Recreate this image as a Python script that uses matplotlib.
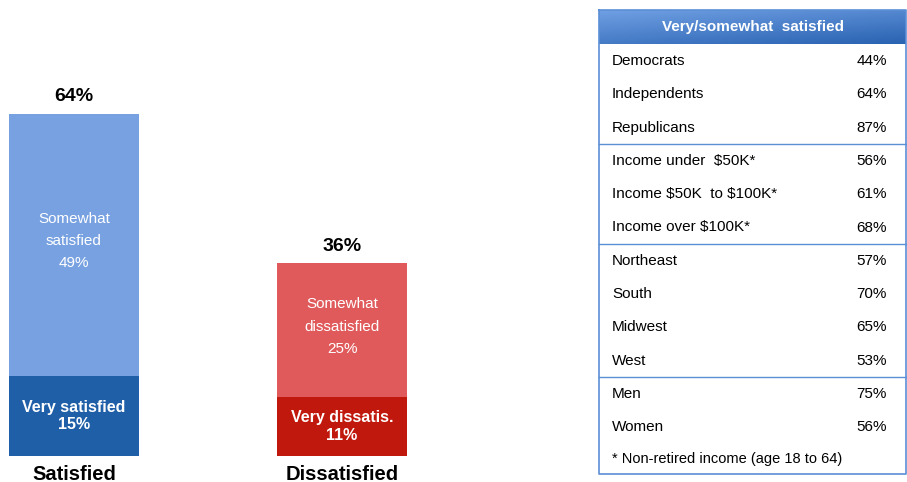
import numpy as np
import matplotlib
matplotlib.use("Agg")
import matplotlib.pyplot as plt
from matplotlib.colors import LinearSegmentedColormap

plt.rcParams['font.family'] = ['Liberation Sans', 'DejaVu Sans']
plt.rcParams['text.parse_math'] = False

# bar data
groups = ['Satisfied', 'Dissatisfied']
very = [15, 11]
somewhat = [49, 25]
very_labels = ['Very satisfied', 'Very dissatis.']
some_labels = ['Somewhat\nsatisfied', 'Somewhat\ndissatisfied']
very_colors = ['#1f5fa8', '#c0180c']
some_colors = ['#77a1e0', '#e05a5c']

# table data
tbl_title = 'Very/somewhat  satisfied'
tbl_rows = ['Democrats', 'Independents', 'Republicans',
            'Income under  $50K*', 'Income $50K  to $100K*', 'Income over $100K*',
            'Northeast', 'South', 'Midwest', 'West',
            'Men', 'Women']
tbl_vals = ['44%', '64%', '87%', '56%', '61%', '68%',
            '57%', '70%', '65%', '53%', '75%', '56%']
tbl_breaks = [2, 5, 9]
footnote = '* Non-retired income (age 18 to 64)'

W, H = 907, 482
fig = plt.figure(figsize=(W / 100, H / 100), dpi=100)

# --- stacked bars ---
bar_w = 0.485
ax = fig.add_axes([9 / W, (H - 456) / H, 398 / W, 374.5 / H])
x = np.arange(len(groups))
ax.bar(x, very, width=bar_w, color=very_colors)
ax.bar(x, somewhat, bottom=very, width=bar_w, color=some_colors)
ax.set_xlim(-bar_w / 2, 1 + bar_w / 2)
ax.set_ylim(0, 70)
ax.axis('off')

for i in range(len(groups)):
    total = very[i] + somewhat[i]
    ax.text(x[i], very[i] / 2, f'{very_labels[i]}\n{very[i]}%', ha='center', va='center',
            color='white', fontsize=11.5, fontweight='bold', linespacing=1.2)
    ax.text(x[i], very[i] + somewhat[i] / 2 + 0.7, f'{some_labels[i]}\n{somewhat[i]}%', ha='center',
            va='center', color='white', fontsize=11, linespacing=1.75)
    ax.text(x[i], total + 1.6, f'{total}%', ha='center', va='bottom',
            fontsize=14, fontweight='bold')
    ax.text(x[i], -1.6, groups[i], ha='center', va='top', fontsize=14.5, fontweight='bold')

# --- table ---
tx = fig.add_axes([0, 0, 1, 1])
tx.set_xlim(0, W)
tx.set_ylim(H, 0)
tx.axis('off')

left, right, top, head_bot, bottom = 599, 906, 10, 44, 474
g = np.add.outer(np.linspace(0, 0.6, 20), np.linspace(0, 0.4, 100))
cmap = LinearSegmentedColormap.from_list('hdr', ['#6f9fe3', '#2a63b2'])
tx.imshow(g, cmap=cmap, extent=[left, right, head_bot, top], aspect='auto', zorder=1)
tx.text((left + right) / 2, (top + head_bot) / 2, tbl_title, ha='center', va='center',
        color='white', fontsize=11, fontweight='bold', zorder=3)
tx.plot([left, left, right, right, left], [top, bottom, bottom, top, top],
        color='#5b8fd6', lw=1.2, zorder=2)

row_y0, row_h = 61, 33.3
for i, (name, val) in enumerate(zip(tbl_rows, tbl_vals)):
    y = row_y0 + i * row_h
    tx.text(612, y, name, ha='left', va='center', fontsize=11)
    tx.text(887, y, val, ha='right', va='center', fontsize=11)
for b in tbl_breaks:
    y = row_y0 + (b + 0.5) * row_h
    tx.plot([left, right], [y, y], color='#5b8fd6', lw=1)
tx.text(612, row_y0 + len(tbl_rows) * row_h - 1.5, footnote, ha='left', va='center', fontsize=10.5)

fig.savefig('out.png', dpi=100)
